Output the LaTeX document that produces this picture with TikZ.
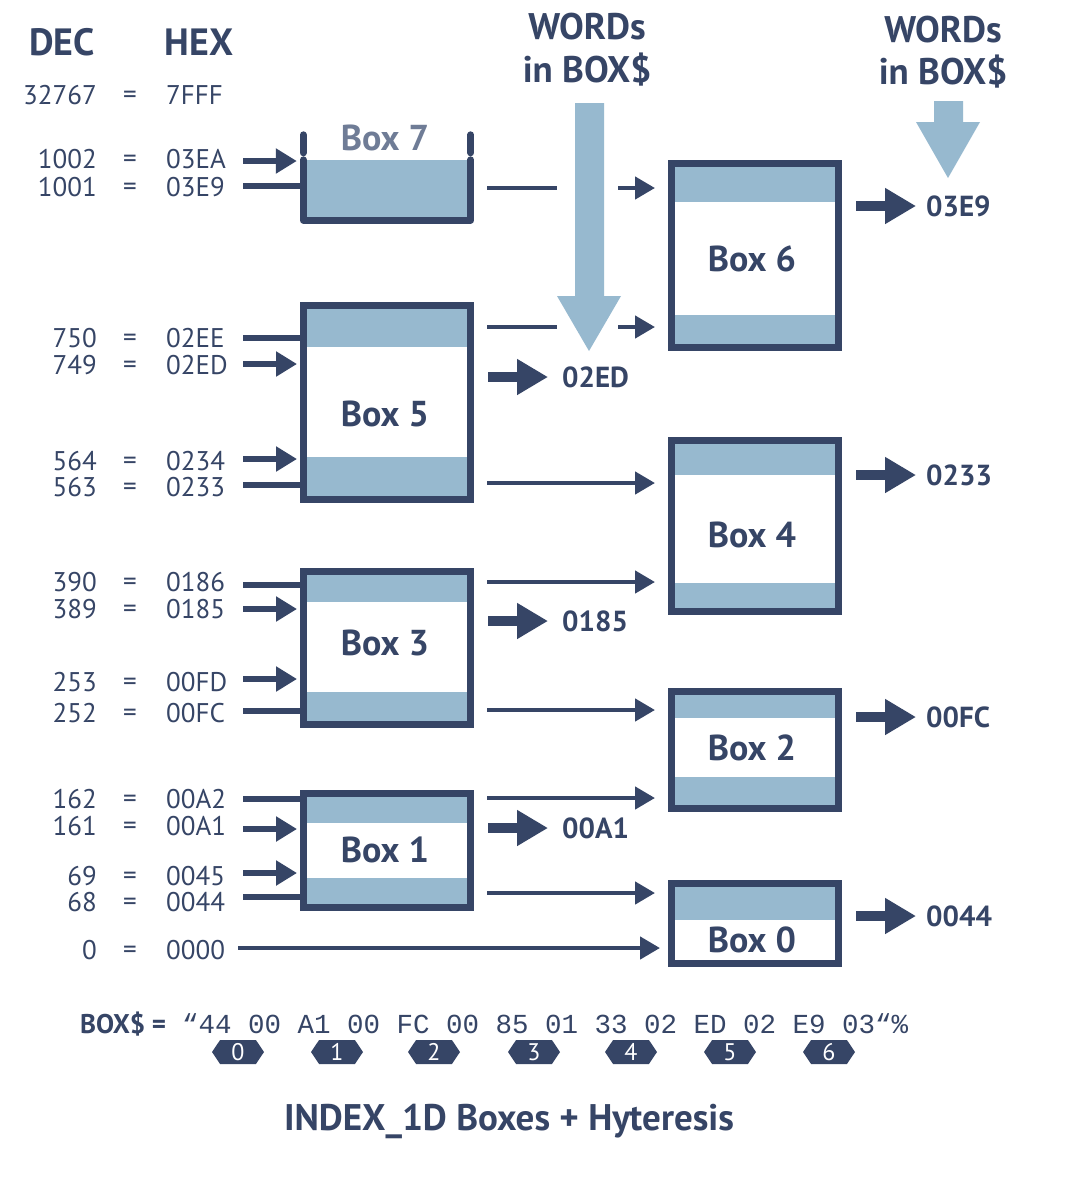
\documentclass[tikz,border=0pt]{standalone}
\usepackage{fontspec}
\setmainfont{PT Sans}
\setmonofont{Liberation Mono}
\usepackage{tikz}
\usetikzlibrary{arrows.meta,shapes.symbols,backgrounds,positioning}
\definecolor{navy}{RGB}{54,69,102}
\definecolor{bandblue}{RGB}{151,185,207}
\definecolor{boxgrey}{RGB}{111,124,150}
\tikzset{
	boxframe/.style={draw=navy,line width=7pt,inner sep=0pt,outer sep=0pt},
	bandfill/.style={fill=bandblue},
	boxlabel/.style={inner sep=0pt,text=navy,font=\fontsize{36}{40}\selectfont\bfseries},
	dec/.style={anchor=east,inner sep=0pt,text=navy,font=\fontsize{27}{30}\selectfont},
	eqsign/.style={inner sep=0pt,yshift=-2pt,text=navy,font=\fontsize{27}{30}\selectfont},
	hex/.style={anchor=west,inner sep=0pt,text=navy,font=\fontsize{27}{30}\selectfont},
	head/.style={inner sep=0pt,text=navy,font=\fontsize{38}{42}\selectfont\bfseries},
	outlabel/.style={anchor=west,inner sep=0pt,text=navy,font=\fontsize{29}{32}\selectfont\bfseries},
	feed/.style={draw=navy,line width=5.5pt},
	feedtip/.style={feed,-{Triangle[length=21pt,width=24pt]},shorten >=6.5pt},
	link/.style={draw=navy,line width=4.5pt},
	linktip/.style={link,-{Triangle[length=20pt,width=22pt]}},
	outtip/.style={draw=navy,line width=10pt,-{Triangle[length=31pt,width=34pt]}},
	idx/.style={signal,signal to=east and west,signal pointer angle=112,fill=navy,text=white,
		minimum width=52pt,minimum height=24pt,inner sep=0pt,font=\fontsize{24}{26}\selectfont},
}
\begin{document}
\begin{tikzpicture}[x=1pt,y=-1pt]
	\useasboundingbox (0,0) rectangle (1077,1192);
	% headings
	\node[head] (dec) at (62,42) {DEC};
	\node[head] (hex) at (199,42) {HEX};
	\node[head,font=\fontsize{37}{40}\selectfont\bfseries] (w1a) at (587,27) {WORDs};
	\node[head,font=\fontsize{37}{40}\selectfont\bfseries] (w1b) at (587,70) {in BOX\$};
	\node[head,font=\fontsize{37}{40}\selectfont\bfseries] (w2a) at (943,30) {WORDs};
	\node[head,font=\fontsize{37}{40}\selectfont\bfseries] (w2b) at (943,72) {in BOX\$};
	% table DEC = HEX
	\node[dec] (d32767) at (97,95) {32767}; \node[eqsign] (q32767) at (130,95) {=}; \node[hex] (h7FFF) at (166,95) {7FFF};
	\node[dec] (d1002) at (97,159) {1002}; \node[eqsign] (q1002) at (130,159) {=}; \node[hex] (h03EA) at (166,159) {03EA};
	\node[dec] (d1001) at (97,187) {1001}; \node[eqsign] (q1001) at (130,187) {=}; \node[hex] (h03E9) at (166,187) {03E9};
	\node[dec] (d750) at (97,338) {750}; \node[eqsign] (q750) at (130,338) {=}; \node[hex] (h02EE) at (166,338) {02EE};
	\node[dec] (d749) at (97,365) {749}; \node[eqsign] (q749) at (130,365) {=}; \node[hex] (h02ED) at (166,365) {02ED};
	\node[dec] (d564) at (97,461) {564}; \node[eqsign] (q564) at (130,461) {=}; \node[hex] (h0234) at (166,461) {0234};
	\node[dec] (d563) at (97,487) {563}; \node[eqsign] (q563) at (130,487) {=}; \node[hex] (h0233) at (166,487) {0233};
	\node[dec] (d390) at (97,582) {390}; \node[eqsign] (q390) at (130,582) {=}; \node[hex] (h0186) at (166,582) {0186};
	\node[dec] (d389) at (97,609) {389}; \node[eqsign] (q389) at (130,609) {=}; \node[hex] (h0185) at (166,609) {0185};
	\node[dec] (d253) at (97,682) {253}; \node[eqsign] (q253) at (130,682) {=}; \node[hex] (h00FD) at (166,682) {00FD};
	\node[dec] (d252) at (97,713) {252}; \node[eqsign] (q252) at (130,713) {=}; \node[hex] (h00FC) at (166,713) {00FC};
	\node[dec] (d162) at (97,799) {162}; \node[eqsign] (q162) at (130,799) {=}; \node[hex] (h00A2) at (166,799) {00A2};
	\node[dec] (d161) at (97,826) {161}; \node[eqsign] (q161) at (130,826) {=}; \node[hex] (h00A1) at (166,826) {00A1};
	\node[dec] (d69) at (97,876) {69}; \node[eqsign] (q69) at (130,876) {=}; \node[hex] (h0045) at (166,876) {0045};
	\node[dec] (d68) at (97,902) {68}; \node[eqsign] (q68) at (130,902) {=}; \node[hex] (h0044) at (166,902) {0044};
	\node[dec] (d0) at (97,950) {0}; \node[eqsign] (q0) at (130,950) {=}; \node[hex] (h0000) at (166,950) {0000};
	% boxes
	\node[inner sep=0pt,minimum width=167pt,minimum height=60pt,fill=bandblue] (b7) at (387,190) {};
	\node[boxframe,minimum width=167pt,minimum height=194pt] (b5) at (387,402.5) {};
	\node[boxframe,minimum width=167pt,minimum height=153pt] (b3) at (387,648) {};
	\node[boxframe,minimum width=167pt,minimum height=114pt] (b1) at (387,850.5) {};
	\node[boxframe,minimum width=167pt,minimum height=184pt] (b6) at (755,255.5) {};
	\node[boxframe,minimum width=167pt,minimum height=171pt] (b4) at (755,526) {};
	\node[boxframe,minimum width=167pt,minimum height=117pt] (b2) at (755,750) {};
	\node[boxframe,minimum width=167pt,minimum height=80pt] (b0) at (755,923.5) {};
	\begin{scope}[on background layer]
		\fill[white] (0,0) rectangle (1077,1192);
		\fill[bandfill] (b5.north west) rectangle (b5.east |- 0,347);
		\fill[bandfill] (b5.south east) rectangle (b5.west |- 0,457);
		\fill[bandfill] (b3.north west) rectangle (b3.east |- 0,602);
		\fill[bandfill] (b3.south east) rectangle (b3.west |- 0,692);
		\fill[bandfill] (b1.north west) rectangle (b1.east |- 0,823);
		\fill[bandfill] (b1.south east) rectangle (b1.west |- 0,878);
		\fill[bandfill] (b6.north west) rectangle (b6.east |- 0,202);
		\fill[bandfill] (b6.south east) rectangle (b6.west |- 0,315);
		\fill[bandfill] (b4.north west) rectangle (b4.east |- 0,475);
		\fill[bandfill] (b4.south east) rectangle (b4.west |- 0,583);
		\fill[bandfill] (b2.north west) rectangle (b2.east |- 0,718);
		\fill[bandfill] (b2.south east) rectangle (b2.west |- 0,777);
		\fill[bandfill] (b0.north west) rectangle (b0.east |- 0,920);
	\end{scope}
	% box 7 has no lid
	\draw[navy,line width=7pt,line join=round,line cap=round] (b7.north west) -- (b7.south west) -- (b7.south east) -- (b7.north east);
	\draw[navy,line width=7pt,line cap=round] ([yshift=25pt]b7.north west) -- ([yshift=7pt]b7.north west);
	\draw[navy,line width=7pt,line cap=round] ([yshift=25pt]b7.north east) -- ([yshift=7pt]b7.north east);
	\node[boxlabel,text=boxgrey] (l7) at (385,138) {Box 7};
	\node[boxlabel] (l5) at (385,414) {Box 5};
	\node[boxlabel] (l3) at (385,643) {Box 3};
	\node[boxlabel] (l1) at (385,850) {Box 1};
	\node[boxlabel] (l6) at (752,259) {Box 6};
	\node[boxlabel] (l4) at (752,535) {Box 4};
	\node[boxlabel] (l2) at (752,748) {Box 2};
	\node[boxlabel] (l0) at (752,940) {Box 0};
	% big arrows
	\fill[bandblue] (575,103) -- (604,103) -- (604,296) -- (621,296) -- (589,351) -- (557,296) -- (575,296) -- cycle;
	\fill[bandblue] (934,101) -- (963,101) -- (963,122) -- (980,122) -- (948,178) -- (916,122) -- (934,122) -- cycle;
	% inputs
	\coordinate (in1002) at (243,161);
	\coordinate (in1001) at (243,186);
	\coordinate (in750) at (243,338);
	\coordinate (in749) at (243,364);
	\coordinate (in564) at (243,459);
	\coordinate (in563) at (243,485);
	\coordinate (in390) at (243,585);
	\coordinate (in389) at (243,609);
	\coordinate (in253) at (243,679);
	\coordinate (in252) at (243,711);
	\coordinate (in162) at (243,799);
	\coordinate (in161) at (243,829);
	\coordinate (in69) at (243,873);
	\coordinate (in68) at (243,897);
	\coordinate (in0) at (238,948);
	\draw[feedtip] (in1002) -- (in1002 -| b7.west);
	\draw[feed] (in1001) -- (in1001 -| b7.west);
	\draw[feed] (in750) -- (in750 -| b5.west);
	\draw[feedtip] (in749) -- (in749 -| b5.west);
	\draw[feedtip] (in564) -- (in564 -| b5.west);
	\draw[feed] (in563) -- (in563 -| b5.west);
	\draw[feed] (in390) -- (in390 -| b3.west);
	\draw[feedtip] (in389) -- (in389 -| b3.west);
	\draw[feedtip] (in253) -- (in253 -| b3.west);
	\draw[feed] (in252) -- (in252 -| b3.west);
	\draw[feed] (in162) -- (in162 -| b1.west);
	\draw[feedtip] (in161) -- (in161 -| b1.west);
	\draw[feedtip] (in69) -- (in69 -| b1.west);
	\draw[feed] (in68) -- (in68 -| b1.west);
	\draw[linktip,shorten >=11.5pt] (in0) -- (in0 -| b0.west);
	% box to box
	\coordinate (k76) at (487,188);
	\coordinate (k56) at (487,327);
	\draw[link] (k76) -- ++(70,0);
	\draw[linktip,shorten >=16.5pt] ([xshift=131pt]k76) -- (k76 -| b6.west);
	\draw[link] (k56) -- ++(70,0);
	\draw[linktip,shorten >=16.5pt] ([xshift=131pt]k56) -- (k56 -| b6.west);
	\draw[linktip,shorten >=16.5pt] ([xshift=16.5pt]b5.east |- 0,483) -- (b4.west |- 0,483);
	\draw[linktip,shorten >=16.5pt] ([xshift=16.5pt]b3.east |- 0,582) -- (b4.west |- 0,582);
	\draw[linktip,shorten >=16.5pt] ([xshift=16.5pt]b3.east |- 0,710) -- (b2.west |- 0,710);
	\draw[linktip,shorten >=16.5pt] ([xshift=16.5pt]b1.east |- 0,798) -- (b2.west |- 0,798);
	\draw[linktip,shorten >=16.5pt] ([xshift=16.5pt]b1.east |- 0,893) -- (b0.west |- 0,893);
	% outputs
	\node[outlabel] (o02ED) at (562,377) {02ED};
	\node[outlabel] (o0185) at (562,621) {0185};
	\node[outlabel] (o00A1) at (562,828) {00A1};
	\node[outlabel] (o03E9) at (926,206) {03E9};
	\node[outlabel] (o0233) at (926,475) {0233};
	\node[outlabel] (o00FC) at (926,717) {00FC};
	\node[outlabel] (o0044) at (926,916) {0044};
	\draw[outtip,shorten >=14pt] ([xshift=17.5pt]b5.east |- o02ED) -- (o02ED);
	\draw[outtip,shorten >=14pt] ([xshift=17.5pt]b3.east |- o0185) -- (o0185);
	\draw[outtip,shorten >=14pt] ([xshift=17.5pt]b1.east |- o00A1) -- (o00A1);
	\draw[outtip,shorten >=10pt] ([xshift=17.5pt]b6.east |- o03E9) -- (o03E9);
	\draw[outtip,shorten >=10pt] ([xshift=17.5pt]b4.east |- o0233) -- (o0233);
	\draw[outtip,shorten >=10pt] ([xshift=17.5pt]b2.east |- o00FC) -- (o00FC);
	\draw[outtip,shorten >=10pt] ([xshift=17.5pt]b0.east |- o0044) -- (o0044);
	% BOX$ string
	\node[anchor=west,inner sep=0pt,text=navy,font=\fontsize{27}{30}\selectfont\bfseries] (boxs) at (80,1024) {BOX\$ =};
	\node[anchor=west,inner sep=0pt,text=navy,font=\fontsize{27.5}{30}\selectfont\ttfamily] (words) at (182,1024) {“44 00 A1 00 FC 00 85 01 33 02 ED 02 E9 03“\%};
	\node[idx] (i0) at (238,1052) {0};
	\node[idx] (i1) at (337,1052) {1};
	\node[idx] (i2) at (434,1052) {2};
	\node[idx] (i3) at (534,1052) {3};
	\node[idx] (i4) at (631,1052) {4};
	\node[idx] (i5) at (730,1052) {5};
	\node[idx] (i6) at (829,1052) {6};
	\node[inner sep=0pt,text=navy,font=\fontsize{37}{40}\selectfont\bfseries] (title) at (509,1121) {INDEX\_1D Boxes + Hyteresis};
\end{tikzpicture}
\end{document}
